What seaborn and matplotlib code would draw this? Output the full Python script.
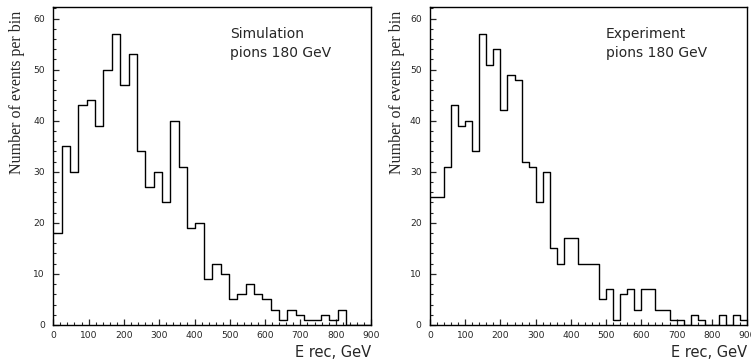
import numpy as np
import pandas as pd
import matplotlib
matplotlib.use('Agg')
import matplotlib.pyplot as plt
import seaborn as sns
from matplotlib.ticker import MultipleLocator

# events per bin
sim_counts = [18, 35, 30, 43, 44, 39, 50, 57, 47, 53, 34, 27, 30, 24, 40, 31, 19, 20,
              9, 12, 10, 5, 6, 8, 6, 5, 3, 1, 3, 2, 1, 1, 2, 1, 3, 0, 0, 0]
sim_bin_width = 900 / 38

exp_counts = [25, 25, 31, 43, 39, 40, 34, 57, 51, 54, 42, 49, 48, 32, 31, 24, 30, 15,
              12, 17, 17, 12, 12, 12, 5, 7, 1, 6, 7, 3, 7, 7, 3, 3, 1, 1, 0, 2, 1,
              0, 0, 2, 0, 2, 1]
exp_bin_width = 20

panel_texts = ["Simulation\npions 180 GeV", "Experiment\npions 180 GeV"]
x_ticks = [0, 100, 200, 300, 400, 500, 600, 700, 800, 900]

sns.set_style("ticks")
plt.rcParams['font.family'] = ['DejaVu Sans']

fig = plt.figure(figsize=(7.51, 3.60), dpi=100)
ax1 = fig.add_axes([53.3 / 751, 35 / 360, 317.7 / 751, 317.7 / 360])
ax2 = fig.add_axes([430 / 751, 35 / 360, 317 / 751, 317.7 / 360])

panels = [(ax1, sim_counts, sim_bin_width, panel_texts[0], -0.089),
          (ax2, exp_counts, exp_bin_width, panel_texts[1], -0.079)]

for ax, counts, width, label, ylab_x in panels:
    edges = np.arange(len(counts) + 1) * width
    df = pd.DataFrame({'E': edges[:-1] + width / 2, 'n': counts})
    # bins as a list: seaborn compares bins to "auto" when weights are given
    sns.histplot(data=df, x='E', weights='n', bins=list(edges), element='step',
                 fill=False, color='black', linewidth=1.0, ax=ax)
    ax.set_xlim(0, 900)
    ax.set_ylim(0, 62.2)
    ax.set_xticks(x_ticks)
    ax.xaxis.set_minor_locator(MultipleLocator(20))
    ax.yaxis.set_major_locator(MultipleLocator(10))
    ax.yaxis.set_minor_locator(MultipleLocator(2))
    ax.tick_params(which='major', direction='in', length=4, width=0.9, labelsize=6.6,
                   top=False, right=False, pad=4)
    ax.tick_params(axis='y', which='major', length=4.5, pad=6)
    ax.tick_params(which='minor', direction='in', length=2, width=0.8,
                   top=False, right=False)
    for s in ax.spines.values():
        s.set_linewidth(1.0)
        s.set_color('black')
    ax.set_ylabel('Number of events per bin', family=['Liberation Serif'],
                  fontsize=11.5, loc='top')
    ax.yaxis.set_label_coords(ylab_x, 0.99)
    ax.set_xlabel('E rec, GeV', fontsize=10.5, loc='right')
    ax.xaxis.set_label_coords(1.0, -0.064)
    ax.text(500, 58.4, label, fontsize=10, ha='left', va='top', linespacing=1.45)

plt.savefig('out.png', dpi=100)
